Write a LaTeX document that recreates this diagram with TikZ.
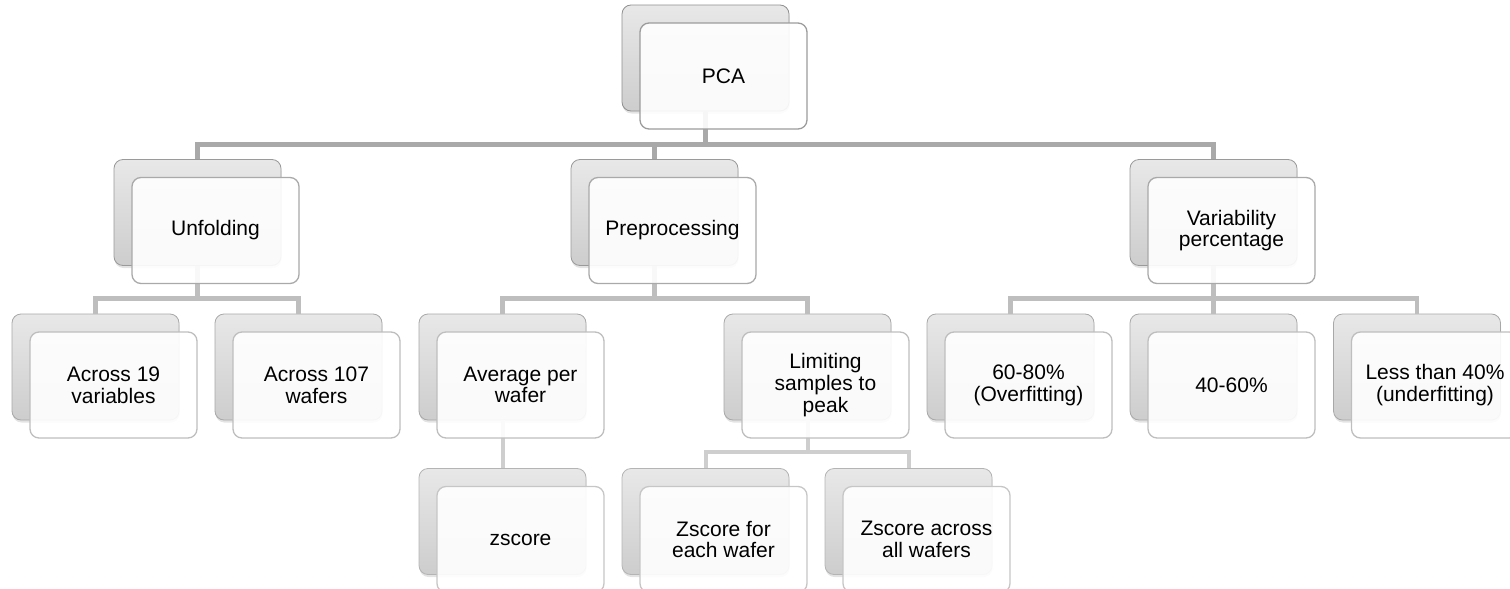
\documentclass[tikz,border=0pt]{standalone}
\usepackage{fontspec}
\setmainfont{Liberation Sans}
\usetikzlibrary{shadows}
\definecolor{backtop}{HTML}{E8E8E8}
\definecolor{backbot}{HTML}{CDCDCD}
\definecolor{bA}{HTML}{8F8F8F}
\definecolor{bB}{HTML}{9A9A9A}
\definecolor{bC}{HTML}{A8A8A8}
\definecolor{bD}{HTML}{B4B4B4}
\definecolor{fA}{HTML}{9C9C9C}
\definecolor{fB}{HTML}{A9A9A9}
\definecolor{fC}{HTML}{BEBEBE}
\definecolor{fD}{HTML}{C6C6C6}
\definecolor{cA}{HTML}{A9A9A9}
\definecolor{cB}{HTML}{BEBEBE}
\definecolor{cC}{HTML}{CECECE}
\begin{document}
\begin{tikzpicture}[x=1pt,y=-1pt,
  backbox/.style={rounded corners=9pt, minimum width=167pt, minimum height=106pt, inner sep=0pt,
    draw=#1, line width=0.8pt, top color=backtop, bottom color=backbot,
    drop shadow={opacity=0.22, shadow xshift=0.5pt, shadow yshift=-2.5pt}},
  frontbox/.style={rounded corners=9pt, minimum width=167pt, minimum height=106pt, inner sep=0pt,
    draw=#1, line width=1.3pt, fill=white, fill opacity=0.9, text opacity=1, align=center,
    font=\fontsize{21}{21.7}\selectfont},
  conn/.style={draw=#1, line width=4.5pt, line join=miter},
]
\useasboundingbox (0,0) rectangle (1510,589);
\clip (0,0) rectangle (1510,589);

% back boxes
\node[backbox=bA] (pcaB) at (705.5,58) {};
\node[backbox=bB] (unfB) at (197.5,212.5) {};
\node[backbox=bB] (preB) at (654.5,212.5) {};
\node[backbox=bB] (varB) at (1213.5,212.5) {};
\node[backbox=bC] (a19B) at (95.5,367) {};
\node[backbox=bC] (a107B) at (298.5,367) {};
\node[backbox=bC] (avgB) at (502.5,367) {};
\node[backbox=bC] (limB) at (807.5,367) {};
\node[backbox=bC] (ovB) at (1010.5,367) {};
\node[backbox=bC] (midB) at (1213.5,367) {};
\node[backbox=bC] (unB) at (1417,367) {};
\node[backbox=bD] (zsB) at (502.5,521.5) {};
\node[backbox=bD] (zeB) at (705.5,521.5) {};
\node[backbox=bD] (zaB) at (908.5,521.5) {};

% connectors
\draw[conn=cA, line width=5pt] (pcaB.south) -- ++(0,33) -| (unfB.north);
\draw[conn=cA, line width=5pt] (pcaB.south) -- ++(0,33) -| (preB.north);
\draw[conn=cA, line width=5pt] (pcaB.south) -- ++(0,33) -| (varB.north);
\draw[conn=cB] (unfB.south) -- ++(0,32.5) -| (a19B.north);
\draw[conn=cB] (unfB.south) -- ++(0,32.5) -| (a107B.north);
\draw[conn=cB] (preB.south) -- ++(0,32.5) -| (avgB.north);
\draw[conn=cB] (preB.south) -- ++(0,32.5) -| (limB.north);
\draw[conn=cB] (varB.south) -- ++(0,32.5) -| (ovB.north);
\draw[conn=cB] (varB.south) -- ++(0,32.5) -| (midB.north);
\draw[conn=cB] (varB.south) -- ++(0,32.5) -| (unB.north);
\draw[conn=cC, line width=4pt] (avgB.south) -- (zsB.north);
\draw[conn=cC, line width=4pt] (limB.south) -- ++(0,32) -| (zeB.north);
\draw[conn=cC, line width=4pt] (limB.south) -- ++(0,32) -| (zaB.north);

% front boxes
\node[frontbox=fA] (pca) at (723.5,76) {PCA};
\node[frontbox=fB] (unf) at (215.5,230.5) {Unfolding};
\node[frontbox=fB] (pre) at (672.5,230.5) {Preprocessing};
\node[frontbox=fB] (var) at (1231.5,230.5) {Variability\\percentage};
\node[frontbox=fC] (a19) at (113.5,385) {Across 19\\variables};
\node[frontbox=fC] (a107) at (316.5,385) {Across 107\\wafers};
\node[frontbox=fC] (avg) at (520.5,385) {Average per\\wafer};
\node[frontbox=fC] (lim) at (825.5,385) {Limiting\\samples to\\peak};
\node[frontbox=fC] (ov) at (1028.5,385) {60-80\%\\(Overfitting)};
\node[frontbox=fC] (mid) at (1231.5,385) {40-60\%};
\node[frontbox=fC] (un) at (1435,385) {Less than 40\%\\(underfitting)};
\node[frontbox=fD] (zs) at (520.5,539.5) {zscore};
\node[frontbox=fD] (ze) at (723.5,539.5) {Zscore for\\each wafer};
\node[frontbox=fD] (za) at (926.5,539.5) {Zscore across\\all wafers};
\end{tikzpicture}
\end{document}
